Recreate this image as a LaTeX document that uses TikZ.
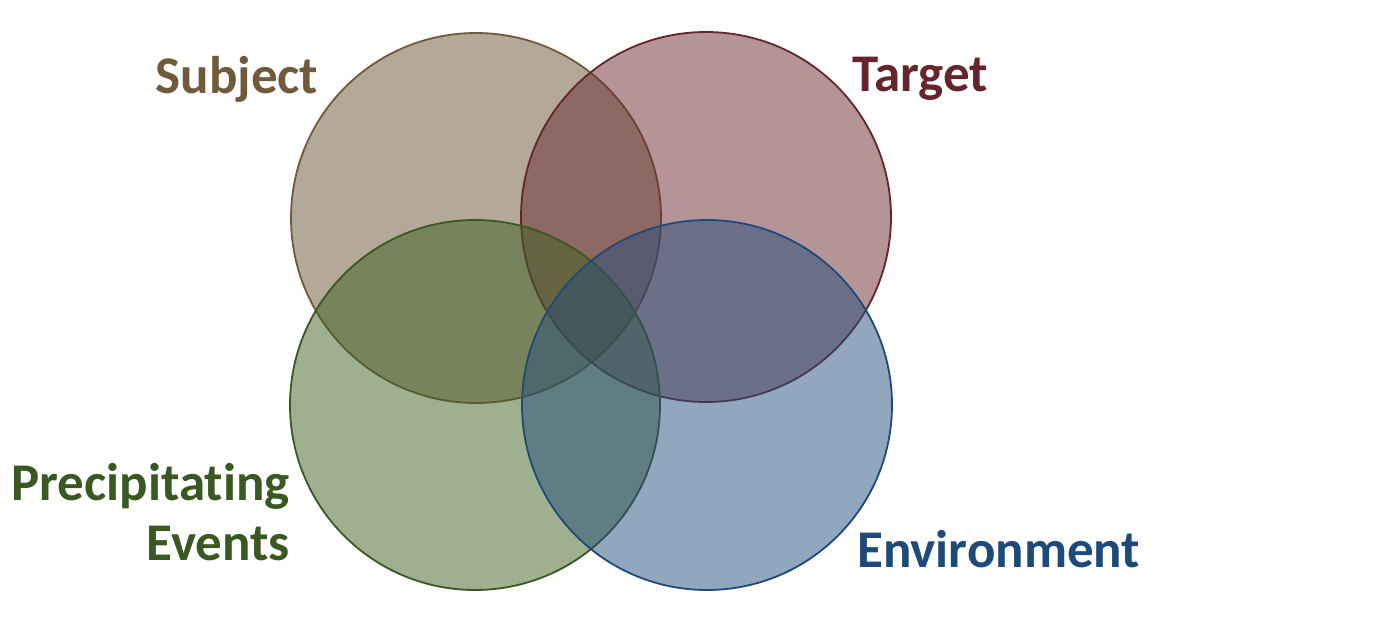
\documentclass[tikz,border=0pt]{standalone}
\usepackage{fontspec}
\setmainfont{Carlito}[Ligatures={NoCommon,NoContextual}]
\definecolor{subjF}{RGB}{105,81,49}
\definecolor{subjD}{RGB}{112,90,58}
\definecolor{targF}{RGB}{105,41,45}
\definecolor{targD}{RGB}{100,38,44}
\definecolor{precF}{RGB}{61,97,31}
\definecolor{precD}{RGB}{58,88,34}
\definecolor{envF}{RGB}{37,77,123}
\definecolor{envD}{RGB}{30,74,122}
\tikzset{
  venn/.style={circle, minimum size=370pt, inner sep=0pt, line width=1.8pt, fill opacity=0.5, draw opacity=1},
  lab/.style={font=\fontsize{53}{60}\selectfont\bfseries, inner sep=0pt}
}
\begin{document}
\begin{tikzpicture}[x=1pt,y=-1pt]
\useasboundingbox (0,0) rectangle (1393,624);
\node[venn, fill=subjF, draw=subjD] (subject) at (476,218) {};
\node[venn, fill=targF, draw=targD] (target) at (706,217) {};
\node[venn, fill=precF, draw=precD] (precip) at (475,405) {};
\node[venn, fill=envF, draw=envD] (env) at (707,405) {};
\node[lab, text=subjD, anchor=base] (subjectlab) at (237,93) {Subject};
\node[lab, text=targD, anchor=base] (targetlab) at (920,91) {Target};
\node[lab, text=precD, anchor=base east] (preclab1) at (290,500) {Precipitating};
\node[lab, text=precD, anchor=base east] (preclab2) at (290,560) {Events};
\node[lab, text=envD, anchor=base west] (envlab) at (857,567) {Environment};
\end{tikzpicture}
\end{document}
